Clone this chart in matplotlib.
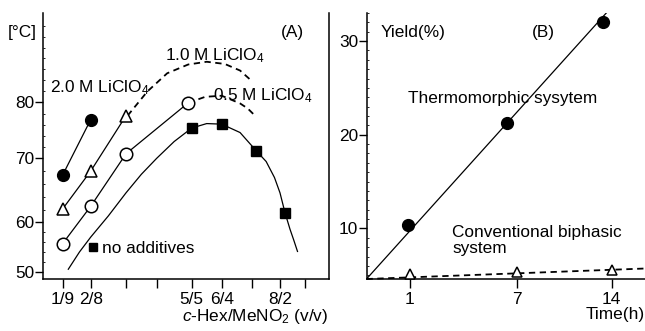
import numpy as np
import matplotlib
matplotlib.use("Agg")
import matplotlib.pyplot as plt
from matplotlib.lines import Line2D
from matplotlib.ticker import FixedLocator, MultipleLocator

plt.rcParams["font.family"] = ["Liberation Sans", "DejaVu Sans"]
plt.rcParams["mathtext.fontset"] = "custom"
plt.rcParams["mathtext.rm"] = "Liberation Sans"
plt.rcParams["mathtext.it"] = "Liberation Sans:italic"
plt.rcParams["font.size"] = 12.4

# ---- panel A: clearing temperature vs solvent ratio ----
# x is the c-Hex part (1 -> 1/9, 2 -> 2/8, ...)
ratio_ticks = [1, 2, 3, 4, 5, 6, 7, 8, 9]
ratio_labels = ["1/9", "2/8", "", "", "5/5", "6/4", "", "8/2", ""]

li20_x = [1, 2]
li20_y = [67.4, 76.9]

li10_x = [1, 2, 3]
li10_y = [62.1, 68.0, 77.6]
li10_dash_x = [3.05, 3.7, 4.3, 4.9, 5.5, 6.1, 6.6, 7.0]
li10_dash_y = [77.6, 82.0, 85.3, 86.9, 87.4, 87.0, 85.8, 83.8]

li05_x = [1, 2, 3, 4.9]
li05_y = [55.7, 62.5, 70.8, 79.9]
li05_dash_x = [4.9, 5.45, 6.0, 6.6, 6.85, 7.1]
li05_dash_y = [79.9, 81.0, 81.2, 79.8, 78.9, 77.6]

none_x = [5, 6, 7.15, 8.2]
none_y = [75.4, 76.1, 71.3, 61.5]
none_fit_x = [1.2, 1.6, 2.0, 2.5, 3.0, 3.5, 4.0, 4.5, 5.0, 5.5, 6.0, 6.6, 7.15, 7.5, 7.8,
              8.0, 8.2, 8.4, 8.55, 8.7]
none_fit_y = [50.5, 54.0, 57.0, 61.0, 64.6, 67.5, 70.0, 73.0, 75.4, 76.2, 76.1, 74.6, 71.3,
              69.5, 67.0, 64.6, 61.5, 58.6, 56.4, 54.1]

# axis calibration (value -> printed position)
a_x_knots = [-100.0, 0.3, 1, 2, 3, 4, 5, 6, 7, 8, 9, 9.92, 100.0]
a_x_pos = [43 - 100.3 * 28, 43, 62.7, 90.7, 126, 156.7, 191.7, 221.7, 252.3, 280, 305, 328.5,
           328.5 + 90 * 25]
a_y_knots = [-100.0, 48.7, 50, 60, 70, 80, 96.3, 300.0]
a_y_pos = [279 + 148.7 * 5.0, 279, 271.7, 222.3, 158.3, 102.3, 13, 13 - 203.7 * 5.47]

# ---- panel B: yield vs time ----
time_ticks = [1, 7, 14]
thermo_t = [0.95, 6.45, 13.35]
thermo_y = [10.4, 21.3, 32.0]
thermo_fit_t = [0, 13.6]
thermo_fit_y = [4.6, 33.0]

conv_t = [1, 7, 14]
conv_y = [5.1, 5.3, 5.6]
conv_fit_t = [0, 16.45]
conv_fit_y = [4.6, 5.72]

b_x_knots = [-100.0, 0, 1, 7, 14, 16.45, 200.0]
b_x_pos = [366.5 - 100 * 43.5, 366.5, 410, 516.7, 611.7, 645, 645 + 183.5 * 13.6]


def interp_scale(knots, pos, flip=False):
    k = np.array(knots)
    p = np.array(pos)
    if flip:
        p = -p
    def fwd(v):
        return np.interp(v, k, p)
    def inv(v):
        return np.interp(v, p, k)
    return fwd, inv


W, H = 645, 331
fig = plt.figure(figsize=(W / 100, H / 100), dpi=100)

axA = fig.add_axes([43 / W, (H - 279) / H, (328.5 - 43) / W, (279 - 13) / H])
axB = fig.add_axes([366.5 / W, (H - 279) / H, (645 - 366.5) / W, (279 - 13) / H])

axA.set_xscale("function", functions=interp_scale(a_x_knots, a_x_pos))
axA.set_yscale("function", functions=interp_scale(a_y_knots, a_y_pos, flip=True))
axA.set_xlim(0.3, 9.92)
axA.set_ylim(48.7, 96.3)

lw = 0.9
dash = (3.5, 2.5)
# 2.0 M
axA.plot(li20_x, li20_y, "-", color="k", lw=lw, marker="o", ms=8.5, mfc="k", zorder=3)
# 1.0 M
axA.plot(li10_dash_x, li10_dash_y, "--", color="k", lw=1.3, dashes=dash)
axA.plot(li10_x, li10_y, "-", color="k", lw=lw, marker="^", ms=9, mfc="white", mec="k",
         mew=1.1, zorder=3)
# 0.5 M
axA.plot(li05_dash_x, li05_dash_y, "--", color="k", lw=1.3, dashes=dash)
axA.plot(li05_x, li05_y, "-", color="k", lw=lw, marker="o", ms=9, mfc="white", mec="k",
         mew=1.1, zorder=3)
# no additives
axA.plot(none_fit_x, none_fit_y, "-", color="k", lw=lw)
axA.plot(none_x, none_y, "s", color="k", ms=7, zorder=3)

axA.legend(handles=[Line2D([], [], ls="none", marker="s", color="k", ms=6)],
           labels=["no additives"], frameon=False, loc="lower left",
           bbox_to_anchor=(0.14, 0.06), handlelength=0.4, handletextpad=0.3,
           borderaxespad=0, fontsize=12.4)

axA.text(2.26, 82.6, "2.0 M LiClO$_4$", ha="center", va="center")
axA.text(5.76, 88.5, "1.0 M LiClO$_4$", ha="center", va="center")
axA.text(7.37, 81.3, "0.5 M LiClO$_4$", ha="center", va="center")
axA.text(0.872, 0.925, "(A)", transform=axA.transAxes, ha="center", va="center")
fig.text(22 / W, 1 - 32 / H, "[°C]", ha="center", va="center", fontsize=12.4)

axA.set_xticks(ratio_ticks)
axA.set_xticklabels(ratio_labels)
axA.set_yticks([50, 60, 70, 80])
axA.yaxis.set_minor_locator(FixedLocator(np.arange(50, 96, 2)))
axA.set_xlabel("$\\it{c}$-Hex/MeNO$_2$ (v/v)", loc="right", labelpad=0)
axA.spines["top"].set_visible(False)

axB.set_xscale("function", functions=interp_scale(b_x_knots, b_x_pos))
axB.set_xlim(0, 16.45)
axB.set_ylim(4.6, 33.0)
axB.plot(thermo_fit_t, thermo_fit_y, "-", color="k", lw=lw)
axB.plot(thermo_t, thermo_y, "o", color="k", ms=8.5, zorder=3)
axB.plot(conv_fit_t, conv_fit_y, "--", color="k", lw=1.3, dashes=dash, clip_on=False)
axB.plot(conv_t, conv_y, "^", ms=7.5, mfc="white", mec="k", mew=1.1, zorder=3, clip_on=False)

axB.text(0.05, 0.925, "Yield(%)", transform=axB.transAxes, ha="left", va="center")
axB.text(0.634, 0.925, "(B)", transform=axB.transAxes, ha="center", va="center")
axB.text(0.489, 0.68, "Thermomorphic sysytem", transform=axB.transAxes, ha="center",
         va="center")
axB.text(0.307, 0.145, "Conventional biphasic\nsystem", transform=axB.transAxes,
         ha="left", va="center", linespacing=1.05)

axB.set_xticks(time_ticks)
axB.set_xticklabels([str(t) for t in time_ticks])
axB.set_yticks([10, 20, 30])
axB.yaxis.set_minor_locator(MultipleLocator(1))
axB.set_xlabel("Time(h)", loc="right", labelpad=0)
axB.spines["top"].set_visible(False)
axB.spines["right"].set_visible(False)

for ax in (axA, axB):
    for s in ax.spines.values():
        s.set_linewidth(1.1)
    ax.tick_params(axis="x", which="major", direction="out", length=6.5, width=1.0, pad=3)
    ax.tick_params(axis="y", which="major", direction="out", length=5.5, width=1.0, pad=0.5)
    ax.tick_params(axis="y", which="minor", direction="in", length=1.5, width=0.6)
    ax.tick_params(axis="x", which="minor", bottom=False)

fig.savefig("out.png", dpi=100)
